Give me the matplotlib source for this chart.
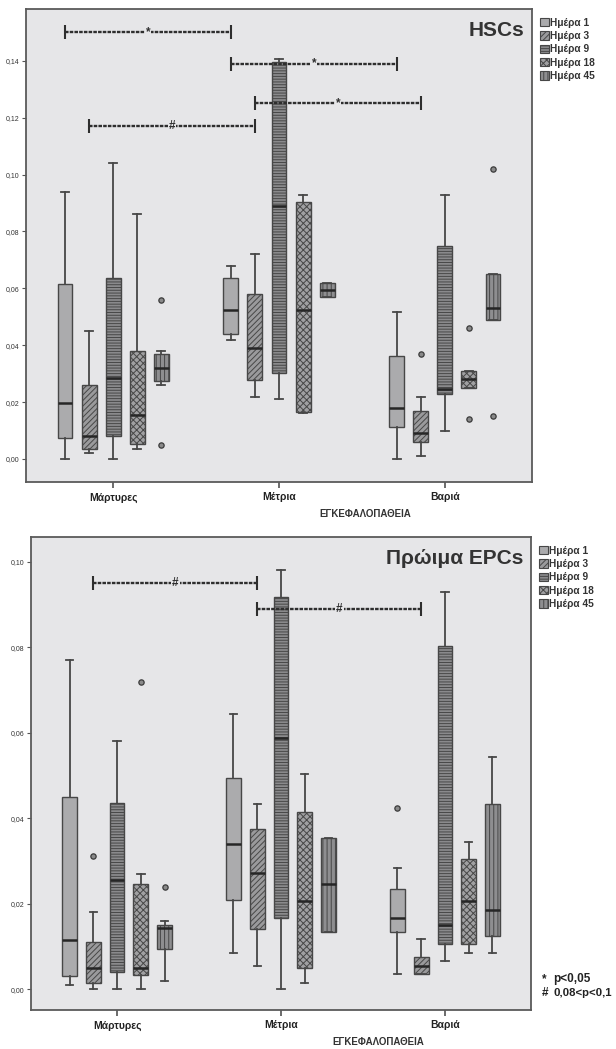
import matplotlib
matplotlib.use("Agg")
import matplotlib.pyplot as plt
from matplotlib.patches import Patch
from matplotlib.ticker import FuncFormatter

plt.rcParams['font.family'] = ['Liberation Sans', 'DejaVu Sans']
plt.rcParams['hatch.linewidth'] = 0.7

categories = ["Μάρτυρες", "Μέτρια", "Βαριά"]
days = ["Ημέρα 1", "Ημέρα 3", "Ημέρα 9", "Ημέρα 18", "Ημέρα 45"]

# HSCs (rows: category, cols: day)
hsc_lo = [[0.0, 0.002, 0.0, 0.0035, 0.026],
          [0.042, 0.0219, 0.021, 0.016, 0.0568],
          [0.0, 0.001, 0.010, 0.0248, 0.0489]]
hsc_q1 = [[0.0075, 0.0035, 0.008, 0.0052, 0.0274],
          [0.0438, 0.0278, 0.0301, 0.0166, 0.0568],
          [0.0114, 0.0059, 0.0228, 0.0248, 0.0489]]
hsc_med = [[0.0197, 0.008, 0.0284, 0.0155, 0.032],
           [0.0524, 0.0389, 0.0889, 0.0524, 0.0594],
           [0.018, 0.009, 0.0245, 0.028, 0.053]]
hsc_q3 = [[0.0615, 0.026, 0.0635, 0.038, 0.037],
          [0.0635, 0.0579, 0.1397, 0.0904, 0.062],
          [0.0363, 0.017, 0.0749, 0.031, 0.0649]]
hsc_hi = [[0.094, 0.045, 0.104, 0.086, 0.038],
          [0.0678, 0.0719, 0.1405, 0.0928, 0.062],
          [0.0518, 0.0219, 0.0928, 0.031, 0.0649]]
hsc_fliers = [[[], [], [], [], [0.056, 0.005]],
              [[], [], [], [], []],
              [[], [0.0369], [], [0.0459, 0.014], [0.1018, 0.0151]]]
hsc_ticks = [0.00, 0.02, 0.04, 0.06, 0.08, 0.10, 0.12, 0.14]

# Early EPCs
epc_lo = [[0.001, 0.0, 0.0, 0.0, 0.002],
          [0.0086, 0.0056, 0.0, 0.0016, 0.0135],
          [0.0036, 0.0036, 0.0067, 0.0086, 0.0086]]
epc_q1 = [[0.0032, 0.0016, 0.0041, 0.0033, 0.0095],
          [0.0209, 0.0141, 0.0167, 0.0051, 0.0135],
          [0.0134, 0.0036, 0.0106, 0.0106, 0.0125]]
epc_med = [[0.0115, 0.005, 0.0256, 0.0051, 0.0143],
           [0.034, 0.0272, 0.0589, 0.0207, 0.0246],
           [0.0167, 0.0055, 0.0151, 0.0207, 0.0186]]
epc_q3 = [[0.045, 0.0111, 0.0436, 0.0246, 0.0151],
          [0.0494, 0.0375, 0.0917, 0.0414, 0.0355],
          [0.0235, 0.0075, 0.0802, 0.0305, 0.0434]]
epc_hi = [[0.0771, 0.018, 0.0581, 0.0271, 0.016],
          [0.0644, 0.0434, 0.0981, 0.0503, 0.0355],
          [0.0285, 0.0117, 0.093, 0.0344, 0.0543]]
epc_fliers = [[[], [0.0311], [], [0.072], [0.024]],
              [[], [], [], [], []],
              [[0.0424], [], [], [], []]]
epc_ticks = [0.00, 0.02, 0.04, 0.06, 0.08, 0.10]

# significance brackets: (cat_a, day_a, cat_b, day_b, height, symbol)
hsc_brackets = [(0, 0, 1, 0, 0.150, "*"), (1, 0, 2, 0, 0.139, "*"),
                (1, 1, 2, 1, 0.125, "*"), (0, 1, 1, 1, 0.117, "#")]
epc_brackets = [(0, 1, 1, 1, 0.095, "#"), (1, 1, 2, 1, 0.089, "#")]

# ---------------- styling ----------------
BG = "#E6E6E8"
EDGE = "#474747"
offsets = [-0.29, -0.145, 0.0, 0.145, 0.29]
box_w = 0.09
day_styles = [
    dict(facecolor="#ABABAD", hatch=None),
    dict(facecolor="#9A9A9C", hatch="//////"),
    dict(facecolor="#8A8A8C", hatch="------"),
    dict(facecolor="#A0A0A2", hatch="xxxxx"),
    dict(facecolor="#8E8E90", hatch="||||"),
]

fig = plt.figure(figsize=(6.16, 10.49), dpi=100)
W, H = 616.0, 1049.0


def add_ax(l, r, t, b):
    return fig.add_axes([l / W, 1 - b / H, (r - l) / W, (b - t) / H])


def pos(c, d):
    return c + offsets[d]


def draw(ax, lo, q1, med, q3, hi, fliers, ticks, ylim, brackets, title, xlabel_xy):
    ax.set_facecolor(BG)
    for c in range(len(categories)):
        for d in range(len(days)):
            st = [dict(med=med[c][d], q1=q1[c][d], q3=q3[c][d],
                       whislo=lo[c][d], whishi=hi[c][d], fliers=fliers[c][d])]
            art = ax.bxp(st, positions=[pos(c, d)], widths=box_w, capwidths=box_w * 0.5,
                         patch_artist=True, manage_ticks=False,
                         boxprops=dict(edgecolor=EDGE, linewidth=1.0,
                                       facecolor=day_styles[d]["facecolor"]),
                         whiskerprops=dict(color=EDGE, linewidth=1.3),
                         capprops=dict(color=EDGE, linewidth=1.3),
                         medianprops=dict(color="#262626", linewidth=1.8),
                         flierprops=dict(marker="o", markersize=3.8, markerfacecolor="#8A8A8A",
                                         markeredgecolor="#3A3A3A", markeredgewidth=0.9))
            if day_styles[d]["hatch"]:
                art["boxes"][0].set_hatch(day_styles[d]["hatch"])
    # brackets
    for (ca, da, cb, db, yb, sym) in brackets:
        xa, xb = pos(ca, da), pos(cb, db)
        ax.plot([xa, xb], [yb, yb], color="#2E2E2E", lw=1.7, ls=(0, (1.5, 0.5)),
                solid_capstyle="butt", zorder=5)
        ax.plot([xa, xb], [yb, yb], ls="none", marker="|", markersize=10, mew=1.5,
                color="#2E2E2E", zorder=5)
        ax.text((xa + xb) / 2, yb, sym, ha="center", va="center", fontsize=8.5,
                fontweight="bold", color="#2E2E2E", zorder=6,
                bbox=dict(facecolor=BG, edgecolor="none", pad=0.8))
    ax.set_xlim(-0.525, 2.525)
    ax.set_ylim(*ylim)
    ax.set_yticks(ticks)
    ax.yaxis.set_major_formatter(FuncFormatter(lambda v, p: f"{v:.2f}".replace(".", ",")))
    ax.set_xticks(range(len(categories)))
    ax.set_xticklabels(categories, fontsize=7.5, fontweight="bold", color="#222222")
    ax.tick_params(axis="y", labelsize=5, length=3, width=0.8, color="#555555",
                   labelcolor="#333333", pad=1.5)
    ax.tick_params(axis="x", length=4.5, width=1.1, color="#444444", pad=3)
    for s in ax.spines.values():
        s.set_color("#5A5A5A")
        s.set_linewidth(1.3)
    ax.set_xlabel("ΕΓΚΕΦΑΛΟΠΑΘΕΙΑ", fontsize=7, fontweight="bold", color="#333333")
    ax.xaxis.set_label_coords(*xlabel_xy)
    ax.text(0.985, 0.975, title, transform=ax.transAxes, ha="right", va="top",
            fontsize=15, fontweight="bold", color="#333333")
    handles = [Patch(facecolor=s["facecolor"], edgecolor=EDGE, hatch=s["hatch"], linewidth=0.8)
               for s in day_styles]
    leg = ax.legend(handles, days, loc="upper left", bbox_to_anchor=(1.015, 0.982),
                    frameon=False, fontsize=7.3, handlelength=0.9, handleheight=0.9,
                    handletextpad=0.15, labelspacing=0.33, borderaxespad=0, borderpad=0)
    for t in leg.get_texts():
        t.set_fontweight("bold")
        t.set_color("#333333")


ax1 = add_ax(26, 532, 9, 482)
draw(ax1, hsc_lo, hsc_q1, hsc_med, hsc_q3, hsc_hi, hsc_fliers, hsc_ticks,
     (-0.0081, 0.1582), hsc_brackets, "HSCs", (0.67, -0.058))

ax2 = add_ax(31, 531, 537, 1010)
draw(ax2, epc_lo, epc_q1, epc_med, epc_q3, epc_hi, epc_fliers, epc_ticks,
     (-0.0048, 0.1058), epc_brackets, "Πρώιμα EPCs", (0.694, -0.058))

fig.text(542 / W, 1 - 979 / H, "*", fontsize=8.5, fontweight="bold", color="#222222", va="center")
fig.text(553 / W, 1 - 979 / H, "p<0,05", fontsize=8.5, fontweight="bold", color="#222222", va="center")
fig.text(542 / W, 1 - 993 / H, "#", fontsize=8.5, fontweight="bold", color="#222222", va="center")
fig.text(553 / W, 1 - 993 / H, "0,08<p<0,1", fontsize=8.2, fontweight="bold", color="#222222",
         va="center")

fig.savefig("out.png", dpi=100, facecolor="white")
